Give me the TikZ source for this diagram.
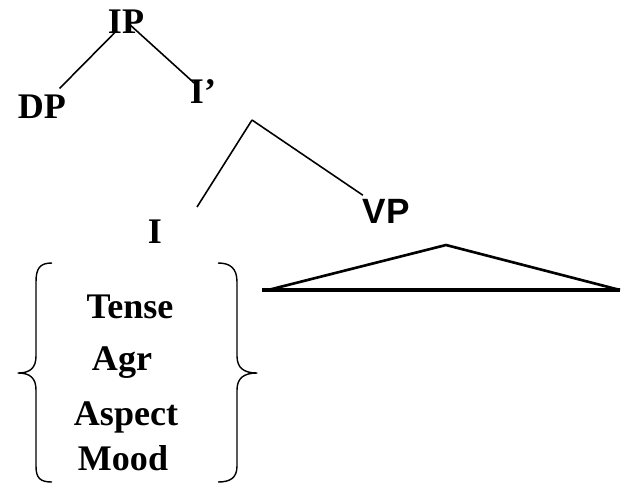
\documentclass[tikz,border=0pt]{standalone}
\usepackage{fontspec}
\setmainfont{Liberation Serif}
\setsansfont{Liberation Sans}

\tikzset{
    cat/.style={font=\fontsize{20.5}{22}\selectfont\bfseries, inner sep=0pt, anchor=base},
    branch/.style={line width=0.9pt},
    curly/.style={line width=0.8pt, line join=round},
}

\begin{document}
\begin{tikzpicture}[x=0.2mm, y=-0.2mm]
    \useasboundingbox (0,0) rectangle (622,484);

    % Tree labels
    \node[cat] (ip) at (126, 33) {IP};
    \node[cat] (dp) at (42, 118) {DP};
    \node[cat] (ibar) at (203, 103) {I'};
    \node[cat] (i) at (155, 243) {I};
    \node[cat, font=\fontsize{20}{22}\selectfont\sffamily\bfseries] (vp) at (386, 223) {VP};
    \coordinate (ibar-top) at (252, 120);
    \coordinate (i-arm) at (197, 207);

    % Branches
    \draw[branch, shorten <=2.6mm, shorten >=5mm] (ip.center) -- (dp.center);
    \draw[branch, shorten <=1mm, shorten >=2.1mm] (ip.center) -- (ibar.center);
    \draw[branch] (ibar-top) -- (i-arm);
    \draw[branch, shorten >=5.6mm] (ibar-top) -- (vp.center);

    % Triangle under VP
    \draw[line width=1.5pt, line join=round] (268, 290) -- (446, 245) -- (620, 290);
    \draw[line width=2.2pt] (262, 290) -- (620, 290);

    % Features of I
    \node[cat] (tense) at (130, 318) {Tense};
    \node[cat] (agr) at (122, 370) {Agr};
    \node[cat] (aspect) at (126, 425) {Aspect};
    \node[cat] (mood) at (123, 470) {Mood};

    % Braces
    \draw[curly] (52, 263) .. controls (40, 263) and (36, 268) .. (36, 282)
        -- (36, 356) .. controls (36, 368) and (30, 373) .. (18, 373)
        .. controls (30, 373) and (36, 378) .. (36, 390)
        -- (36, 466) .. controls (36, 478) and (40, 482) .. (52, 482);
    \draw[curly] (218, 263) .. controls (230, 263) and (237, 268) .. (237, 282)
        -- (237, 356) .. controls (237, 368) and (244, 373) .. (257, 373)
        .. controls (244, 373) and (237, 378) .. (237, 390)
        -- (237, 466) .. controls (237, 478) and (230, 482) .. (218, 482);
\end{tikzpicture}
\end{document}
